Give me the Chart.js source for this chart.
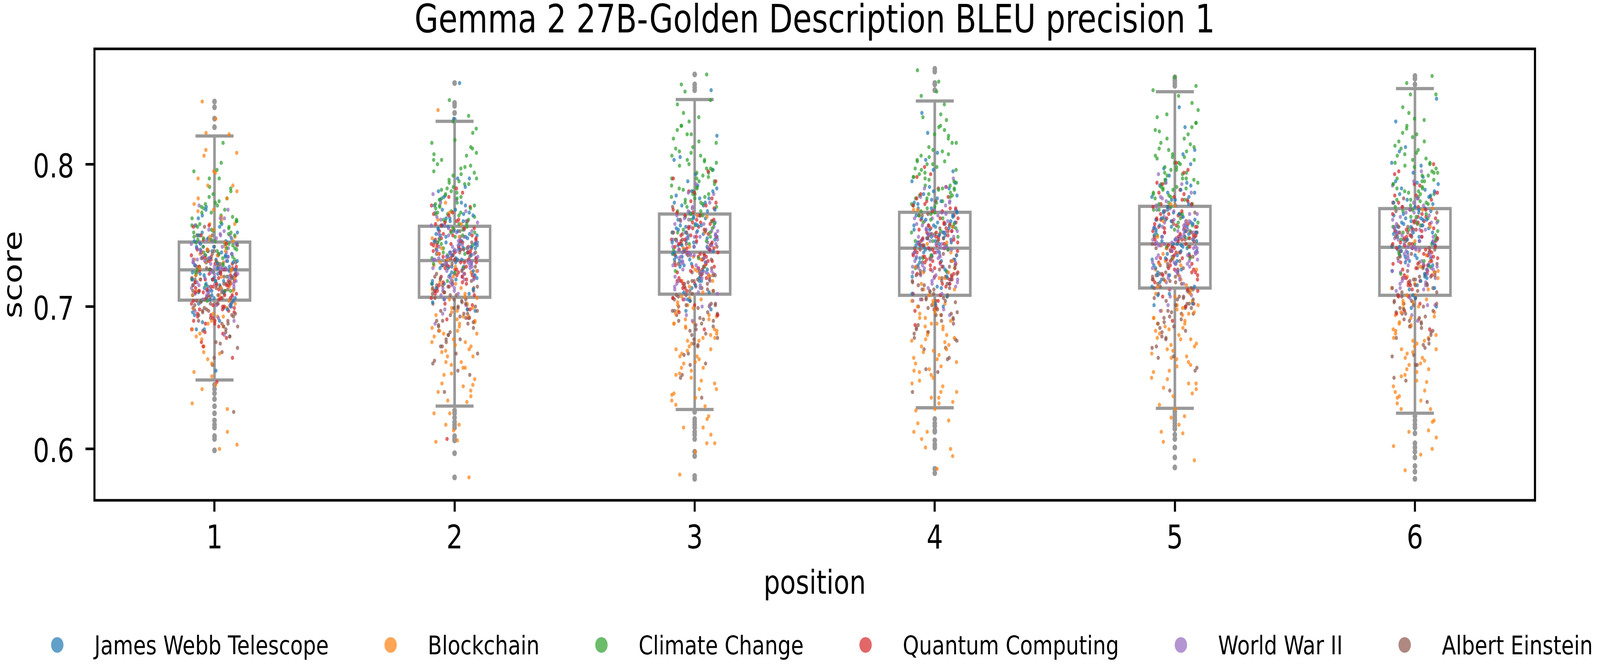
<!DOCTYPE html>
<html><head><meta charset="utf-8">
<script src="https://cdn.jsdelivr.net/npm/chart.js@4.4.1/dist/chart.umd.min.js"></script>
<style>
html,body{margin:0;padding:0;background:#fff;overflow:hidden;}
canvas{display:block;width:100vw !important;height:100vh !important;}
</style>
</head><body>
<canvas id="c" width="5167" height="1709"></canvas>
<script>
// ---------------- DATA ----------------
const positions = [1, 2, 3, 4, 5, 6];
const topics = ['James Webb Telescope', 'Blockchain', 'Climate Change', 'Quantum Computing', 'World War II', 'Albert Einstein'];
const topicColors = ['rgba(31,119,180,0.7)', 'rgba(255,127,14,0.7)', 'rgba(44,160,44,0.7)', 'rgba(214,39,40,0.7)', 'rgba(148,103,189,0.7)', 'rgba(140,86,75,0.7)'];
const yTickValues = [0.6, 0.7, 0.8];
const chartTitle = 'Gemma 2 27B-Golden Description BLEU precision 1';

// box-plot statistics per position
const boxQ1 = [0.7045, 0.7065, 0.7087, 0.7079, 0.7130, 0.7079];
const boxMedian = [0.7258, 0.7323, 0.7382, 0.7410, 0.7440, 0.7416];
const boxQ3 = [0.7453, 0.7564, 0.7650, 0.7662, 0.7704, 0.7688];
const whiskerLow = [0.6484, 0.6301, 0.6277, 0.6289, 0.6285, 0.6251];
const whiskerHigh = [0.8198, 0.8301, 0.8454, 0.8444, 0.8509, 0.8531];

// box-plot outliers per position
const outliers = [
  [.844,.840,.832,.826,.645,.642,.639,.635,.630,.625,.620,.617,.615,.609,.607,.599],
  [.857,.843,.841,.836,.831,.627,.625,.622,.619,.617,.615,.609,.607,.606,.597,.580],
  [.863,.856,.854,.852,.626,.621,.619,.617,.615,.612,.610,.607,.598,.595,.581,.579],
  [.867,.865,.857,.856,.852,.621,.618,.616,.613,.612,.606,.603,.601,.586,.583],
  [.861,.859,.857,.855,.626,.624,.622,.620,.618,.616,.614,.610,.607,.601,.594,.587],
  [.862,.860,.856,.623,.620,.617,.615,.611,.604,.601,.598,.594,.588,.584,.579]
];

// strip points per topic, one list per position
const jamesWebbScores = [
  [.724,.731,.708,.746,.719,.702,.737,.728,.713,.752,.699,.726,.741,.717,.733,.689,.722,.758,.711,.729,.735,.706,.744,.720,.715,.770,.696,.727,.739,.710,.748,.723,.684,.732,.718,.705,.742,.725,.655,.764,
   .726,.712,.748,.694,.732,.720,.740,.704,.756,.716,.724,.736,.708,.762,.700,.730,.722,.744,.710,.734,.684,.728,.718,.752,.706,.738,.714,.746,.698,.742,.723,.731,.690,.768,.719,.735,.711,.750,.702,.727],
  [.745,.728,.760,.737,.751,.719,.768,.741,.733,.756,.711,.748,.739,.775,.725,.744,.762,.703,.749,.736,.781,.730,.753,.716,.743,.765,.722,.740,.790,.734,.757,.697,.746,.727,.771,.738,.832,.750,.712,.857,
   .745,.718,.771,.728,.754,.736,.790,.705,.750,.741,.762,.713,.766,.731,.757,.722,.773,.735,.746,.698,.753,.727,.764,.740,.749,.716,.784,.724,.755,.742,.733,.777,.720,.760,.738,.751,.709,.768,.729,.744],
  [.750,.733,.767,.742,.757,.722,.776,.746,.737,.762,.713,.754,.744,.785,.729,.749,.771,.704,.755,.740,.793,.735,.759,.718,.748,.773,.726,.745,.805,.739,.764,.697,.752,.731,.781,.743,.852,.757,.710,.820,
   .751,.733,.778,.710,.758,.743,.768,.723,.788,.738,.748,.763,.728,.796,.718,.756,.745,.773,.730,.761,.698,.753,.740,.783,.725,.766,.735,.776,.715,.771,.747,.757,.705,.803,.742,.762,.732,.781,.720,.752],
  [.752,.736,.769,.745,.759,.725,.778,.748,.740,.764,.716,.756,.747,.787,.732,.751,.773,.707,.757,.743,.795,.738,.761,.721,.750,.775,.729,.747,.808,.742,.766,.700,.754,.734,.783,.746,.836,.759,.713,.822,
   .754,.724,.781,.734,.763,.744,.803,.709,.758,.749,.772,.719,.776,.738,.767,.728,.784,.743,.755,.702,.762,.733,.774,.748,.757,.721,.796,.731,.764,.750,.740,.788,.726,.769,.745,.760,.714,.779,.736,.752],
  [.754,.737,.771,.746,.761,.726,.780,.750,.741,.766,.717,.758,.748,.789,.733,.753,.775,.708,.759,.744,.797,.739,.763,.722,.752,.777,.730,.749,.810,.743,.768,.701,.756,.735,.785,.747,.840,.761,.714,.826,
   .756,.724,.785,.736,.766,.746,.807,.709,.761,.751,.775,.719,.780,.739,.770,.729,.787,.744,.757,.702,.765,.734,.777,.749,.760,.722,.800,.732,.767,.752,.742,.792,.727,.772,.747,.762,.714,.782,.737,.755],
  [.754,.736,.772,.746,.762,.725,.782,.750,.740,.767,.715,.758,.748,.791,.732,.753,.777,.706,.759,.743,.799,.738,.764,.720,.752,.779,.729,.749,.812,.742,.769,.699,.756,.734,.787,.747,.846,.761,.712,.830,
   .755,.736,.783,.713,.762,.747,.773,.726,.794,.742,.752,.768,.731,.801,.721,.760,.749,.778,.734,.765,.700,.757,.744,.788,.729,.770,.739,.781,.718,.775,.751,.761,.708,.809,.745,.766,.735,.786,.723,.756]
];
const blockchainScores = [
  [.844,.702,.761,.688,.733,.612,.795,.719,.746,.667,.822,.708,.739,.651,.776,.726,.693,.806,.603,.731,.758,.679,.714,.832,.642,.749,.721,.785,.698,.628,.768,.737,.711,.600,.810,.684,.742,.660,.790,.725,
   .729,.672,.781,.693,.747,.711,.821,.645,.738,.720,.763,.663,.772,.699,.754,.681,.785,.708,.731,.632,.745,.690,.767,.717,.736,.668,.808,.686,.749,.722,.704,.794,.677,.758,.713,.740,.654,.776,.695,.727],
  [.688,.661,.712,.675,.699,.640,.724,.683,.652,.706,.693,.625,.741,.670,.716,.646,.690,.758,.634,.679,.702,.613,.731,.665,.686,.617,.748,.657,.696,.838,.672,.606,.710,.681,.644,.766,.694,.580,.728,.668,
   .689,.661,.733,.625,.701,.677,.717,.645,.749,.669,.685,.709,.653,.761,.637,.697,.681,.725,.657,.705,.605,.693,.673,.741,.649,.713,.665,.729,.633,.721,.683,.699,.617,.773,.675,.707,.659,.737,.641,.691],
  [.683,.657,.706,.670,.694,.636,.718,.678,.648,.701,.688,.621,.735,.665,.711,.642,.685,.752,.630,.674,.697,.610,.725,.660,.681,.615,.742,.652,.691,.598,.667,.604,.705,.676,.639,.763,.689,.582,.722,.663,
   .686,.638,.729,.655,.701,.670,.764,.615,.693,.678,.714,.631,.722,.661,.707,.646,.733,.669,.688,.604,.699,.653,.718,.676,.691,.634,.752,.650,.703,.680,.665,.741,.642,.710,.672,.695,.623,.726,.657,.684],
  [.682,.655,.707,.669,.695,.633,.720,.677,.646,.702,.688,.618,.738,.663,.712,.640,.686,.756,.627,.673,.698,.607,.727,.658,.680,.612,.745,.650,.692,.595,.666,.601,.704,.675,.636,.768,.690,.586,.724,.661,
   .684,.656,.728,.620,.696,.672,.712,.640,.744,.664,.680,.704,.648,.756,.632,.692,.676,.720,.652,.700,.600,.688,.668,.736,.644,.708,.660,.724,.628,.716,.678,.694,.612,.768,.670,.702,.654,.732,.636,.686],
  [.690,.664,.714,.677,.701,.643,.726,.685,.655,.709,.695,.628,.743,.672,.719,.649,.692,.760,.637,.681,.704,.617,.732,.667,.688,.622,.749,.659,.698,.605,.674,.611,.712,.683,.646,.771,.697,.592,.729,.670,
   .692,.665,.734,.631,.703,.680,.718,.650,.749,.673,.688,.711,.658,.760,.642,.699,.684,.726,.661,.707,.612,.696,.677,.741,.654,.715,.669,.730,.639,.722,.686,.701,.623,.772,.678,.709,.663,.737,.646,.694],
  [.683,.656,.708,.670,.696,.634,.721,.678,.647,.703,.689,.619,.739,.664,.713,.641,.687,.757,.628,.674,.699,.608,.728,.659,.681,.613,.746,.651,.693,.596,.667,.602,.705,.676,.637,.769,.691,.585,.725,.662,
   .686,.636,.732,.654,.702,.670,.768,.612,.694,.678,.716,.628,.724,.660,.708,.644,.736,.668,.688,.600,.700,.652,.720,.676,.692,.632,.756,.648,.704,.680,.664,.744,.640,.712,.672,.696,.620,.728,.656,.684]
];
const climateChangeScores = [
  [.752,.771,.738,.760,.729,.784,.745,.756,.718,.766,.741,.801,.733,.749,.776,.724,.758,.743,.790,.736,.762,.711,.754,.747,.781,.731,.769,.740,.815,.726,.757,.744,.773,.704,.750,.764,.739,.795,.721,.753,
   .750,.735,.774,.715,.757,.744,.766,.726,.783,.739,.748,.761,.730,.790,.722,.755,.746,.770,.733,.759,.704,.752,.741,.779,.728,.763,.737,.772,.719,.768,.747,.756,.711,.796,.742,.760,.734,.777,.724,.751],
  [.776,.752,.793,.765,.807,.741,.784,.770,.822,.758,.779,.734,.798,.767,.745,.812,.773,.761,.790,.727,.845,.769,.786,.749,.803,.763,.777,.718,.795,.756,.830,.771,.743,.788,.760,.815,.737,.781,.766,.799,
   .776,.741,.808,.754,.787,.765,.834,.724,.782,.771,.797,.736,.803,.758,.792,.747,.811,.764,.778,.716,.786,.752,.800,.769,.780,.738,.825,.750,.789,.772,.761,.817,.744,.794,.766,.783,.730,.806,.755,.775],
  [.788,.763,.806,.777,.821,.752,.797,.783,.836,.770,.792,.744,.811,.779,.757,.827,.786,.773,.803,.737,.863,.781,.799,.760,.816,.775,.790,.728,.808,.767,.845,.784,.754,.801,.772,.830,.747,.794,.779,.856,
   .788,.767,.821,.740,.797,.779,.809,.755,.833,.773,.785,.803,.761,.842,.749,.794,.782,.815,.764,.800,.725,.791,.776,.827,.758,.806,.770,.818,.746,.812,.783,.796,.734,.851,.777,.802,.765,.824,.752,.790],
  [.787,.762,.805,.776,.820,.751,.796,.782,.835,.769,.791,.743,.810,.778,.756,.826,.785,.772,.802,.736,.866,.780,.798,.759,.815,.774,.789,.727,.807,.766,.848,.783,.753,.800,.771,.831,.746,.793,.778,.858,
   .790,.752,.824,.765,.802,.777,.851,.734,.796,.783,.812,.746,.818,.770,.806,.758,.827,.776,.791,.725,.800,.764,.815,.782,.794,.749,.842,.761,.803,.785,.773,.833,.755,.809,.779,.797,.740,.821,.767,.788],
  [.792,.768,.809,.782,.823,.757,.801,.787,.838,.775,.796,.750,.814,.784,.762,.829,.790,.778,.806,.742,.861,.786,.803,.765,.818,.780,.794,.734,.811,.772,.848,.789,.759,.805,.777,.833,.753,.798,.783,.855,
   .793,.773,.824,.748,.801,.784,.812,.762,.835,.779,.790,.807,.768,.843,.756,.798,.787,.818,.770,.804,.734,.796,.782,.829,.765,.810,.776,.821,.754,.815,.789,.800,.742,.852,.783,.805,.772,.826,.759,.794],
  [.788,.763,.806,.777,.821,.752,.797,.783,.836,.770,.792,.744,.811,.779,.757,.827,.786,.773,.803,.737,.862,.781,.799,.760,.816,.775,.790,.728,.808,.767,.849,.784,.754,.801,.772,.832,.747,.794,.779,.857,
   .786,.765,.819,.738,.795,.777,.807,.753,.831,.771,.783,.801,.759,.840,.747,.792,.780,.813,.762,.798,.723,.789,.774,.825,.756,.804,.768,.816,.744,.810,.781,.794,.732,.849,.775,.800,.763,.822,.750,.788]
];
const quantumComputingScores = [
  [.714,.698,.727,.705,.688,.720,.711,.735,.693,.716,.702,.747,.709,.681,.723,.713,.697,.730,.675,.718,.706,.740,.690,.715,.701,.725,.664,.712,.719,.684,.708,.733,.695,.722,.647,.710,.728,.700,.757,.717,
   .715,.690,.738,.699,.723,.707,.756,.678,.719,.711,.730,.686,.734,.702,.726,.694,.740,.706,.716,.672,.722,.698,.732,.710,.718,.688,.750,.696,.724,.712,.704,.744,.692,.728,.708,.720,.682,.736,.700,.714],
  [.737,.722,.751,.731,.745,.714,.758,.733,.726,.748,.708,.740,.729,.765,.719,.736,.753,.701,.742,.727,.771,.723,.744,.711,.739,.760,.717,.734,.780,.728,.747,.692,.738,.721,.755,.731,.607,.743,.716,.750,
   .737,.722,.761,.702,.744,.731,.753,.713,.770,.726,.735,.748,.717,.777,.709,.742,.733,.757,.720,.746,.691,.739,.728,.766,.715,.750,.724,.759,.706,.755,.734,.743,.698,.783,.729,.747,.721,.764,.711,.738],
  [.744,.728,.759,.738,.752,.720,.766,.740,.732,.756,.713,.747,.736,.774,.724,.743,.761,.705,.749,.733,.781,.729,.751,.716,.746,.769,.721,.741,.790,.735,.755,.696,.745,.727,.764,.738,.684,.750,.718,.758,
   .746,.716,.773,.726,.755,.736,.795,.701,.750,.741,.764,.711,.768,.730,.759,.720,.776,.735,.747,.694,.754,.725,.766,.740,.749,.713,.788,.723,.756,.742,.732,.780,.718,.761,.737,.752,.706,.771,.728,.744],
  [.747,.731,.762,.741,.755,.723,.769,.743,.735,.759,.716,.750,.739,.777,.727,.746,.764,.708,.752,.736,.784,.732,.754,.719,.749,.772,.724,.744,.793,.738,.758,.699,.748,.730,.767,.741,.687,.753,.721,.761,
   .747,.731,.774,.709,.755,.740,.764,.721,.783,.735,.745,.759,.726,.791,.716,.752,.743,.769,.728,.757,.697,.750,.738,.779,.723,.762,.733,.771,.714,.767,.744,.753,.704,.798,.739,.758,.729,.776,.719,.749],
  [.750,.734,.765,.744,.758,.726,.772,.746,.738,.762,.719,.753,.742,.780,.730,.749,.767,.711,.755,.739,.787,.735,.757,.722,.752,.775,.727,.747,.796,.741,.761,.702,.751,.733,.770,.744,.690,.756,.724,.764,
   .752,.722,.779,.732,.761,.742,.801,.707,.756,.747,.770,.717,.774,.736,.765,.726,.782,.741,.753,.700,.760,.731,.772,.746,.755,.719,.794,.729,.762,.748,.738,.786,.724,.767,.743,.758,.712,.777,.734,.750],
  [.747,.730,.763,.741,.756,.722,.770,.743,.734,.760,.715,.751,.739,.778,.726,.746,.765,.707,.753,.736,.786,.731,.755,.718,.749,.773,.723,.744,.795,.738,.759,.697,.748,.729,.768,.741,.684,.754,.720,.762,
   .749,.717,.778,.729,.759,.739,.800,.702,.754,.744,.768,.712,.773,.732,.763,.722,.780,.737,.750,.695,.758,.727,.770,.742,.753,.715,.793,.725,.760,.745,.735,.785,.720,.765,.740,.755,.707,.775,.730,.748]
];
const worldWarIIScores = [
  [.729,.741,.716,.734,.722,.750,.711,.731,.738,.719,.745,.707,.727,.736,.713,.762,.724,.733,.700,.730,.742,.718,.726,.754,.709,.735,.721,.739,.690,.728,.747,.715,.732,.725,.771,.703,.737,.720,.744,.680,
   .730,.717,.750,.701,.735,.724,.742,.710,.757,.721,.728,.739,.714,.762,.706,.733,.726,.746,.715,.737,.692,.732,.723,.753,.712,.741,.719,.748,.705,.744,.727,.734,.697,.768,.723,.738,.716,.751,.708,.731],
  [.736,.748,.724,.741,.730,.757,.719,.738,.745,.727,.752,.713,.734,.743,.721,.766,.731,.740,.708,.737,.749,.725,.733,.760,.716,.742,.728,.746,.698,.735,.754,.720,.739,.732,.775,.711,.744,.726,.750,.688,
   .738,.713,.761,.722,.746,.730,.779,.701,.742,.734,.753,.709,.757,.725,.749,.717,.763,.729,.739,.695,.745,.721,.755,.733,.741,.711,.773,.719,.747,.735,.727,.767,.715,.751,.731,.743,.705,.759,.723,.737],
  [.739,.752,.726,.744,.733,.761,.721,.741,.749,.730,.756,.715,.737,.747,.724,.770,.734,.743,.710,.740,.753,.728,.736,.764,.718,.745,.731,.750,.700,.738,.758,.723,.742,.735,.779,.713,.748,.729,.754,.690,
   .740,.725,.764,.705,.747,.734,.756,.716,.773,.729,.738,.751,.720,.780,.712,.745,.736,.760,.723,.749,.694,.742,.731,.769,.718,.753,.727,.762,.709,.758,.737,.746,.701,.786,.732,.750,.724,.767,.714,.741],
  [.743,.756,.730,.748,.737,.765,.725,.745,.753,.734,.760,.719,.741,.751,.728,.774,.738,.747,.714,.744,.757,.732,.740,.768,.722,.749,.735,.754,.704,.742,.762,.727,.746,.739,.783,.717,.752,.733,.758,.694,
   .744,.729,.768,.709,.751,.738,.760,.720,.777,.733,.742,.755,.724,.784,.716,.749,.740,.764,.727,.753,.698,.746,.735,.773,.722,.757,.731,.766,.713,.762,.741,.750,.705,.790,.736,.754,.728,.771,.718,.745],
  [.746,.759,.733,.751,.740,.768,.728,.748,.756,.737,.763,.722,.744,.754,.731,.777,.741,.750,.717,.747,.760,.735,.743,.771,.725,.752,.738,.757,.707,.745,.765,.730,.749,.742,.786,.720,.755,.736,.761,.697,
   .748,.721,.774,.731,.757,.739,.793,.708,.753,.744,.765,.716,.769,.734,.760,.725,.776,.738,.749,.701,.756,.730,.767,.743,.752,.719,.787,.727,.758,.745,.736,.780,.723,.763,.741,.754,.712,.771,.732,.747],
  [.743,.757,.729,.748,.736,.766,.724,.745,.754,.733,.761,.717,.741,.752,.727,.776,.737,.747,.712,.744,.758,.731,.740,.770,.720,.749,.734,.755,.701,.742,.763,.726,.746,.739,.785,.715,.753,.732,.759,.690,
   .744,.728,.771,.706,.752,.737,.761,.718,.780,.732,.742,.756,.723,.788,.713,.749,.740,.766,.725,.754,.694,.747,.735,.776,.720,.759,.730,.768,.711,.764,.741,.750,.701,.795,.736,.755,.726,.773,.716,.746]
];
const albertEinsteinScores = [
  [.709,.692,.724,.701,.715,.683,.731,.706,.697,.719,.688,.742,.704,.712,.674,.727,.699,.716,.659,.711,.694,.736,.705,.686,.721,.702,.750,.679,.713,.696,.726,.668,.708,.717,.690,.739,.703,.626,.714,.698,
   .711,.684,.737,.694,.720,.702,.756,.671,.716,.707,.728,.679,.732,.697,.723,.688,.739,.701,.712,.664,.719,.693,.730,.706,.715,.682,.750,.690,.721,.708,.699,.743,.686,.726,.704,.717,.675,.734,.695,.710],
  [.706,.688,.723,.697,.713,.677,.732,.702,.692,.718,.683,.745,.700,.710,.667,.727,.694,.715,.652,.708,.690,.738,.703,.680,.721,.698,.754,.672,.711,.693,.729,.660,.705,.716,.686,.741,.699,.640,.714,.695,
   .708,.690,.735,.667,.715,.700,.725,.680,.745,.695,.705,.720,.685,.753,.675,.713,.702,.730,.687,.718,.655,.710,.697,.740,.682,.723,.692,.733,.672,.728,.704,.714,.662,.760,.699,.719,.689,.738,.677,.709],
  [.709,.690,.727,.699,.716,.678,.737,.704,.694,.721,.684,.751,.702,.713,.667,.731,.696,.718,.650,.711,.692,.744,.706,.681,.724,.700,.760,.673,.714,.695,.734,.659,.708,.719,.687,.747,.701,.636,.717,.697,
   .712,.677,.744,.690,.723,.701,.770,.660,.718,.707,.733,.672,.739,.694,.728,.683,.747,.700,.714,.652,.722,.688,.736,.705,.716,.674,.761,.686,.725,.708,.697,.753,.680,.730,.702,.719,.666,.742,.691,.711],
  [.713,.694,.731,.703,.720,.682,.741,.708,.698,.725,.688,.755,.706,.717,.671,.735,.700,.722,.654,.715,.696,.748,.710,.685,.728,.704,.764,.677,.718,.699,.738,.663,.712,.723,.691,.751,.705,.640,.721,.701,
   .715,.695,.746,.670,.723,.706,.734,.684,.757,.701,.712,.729,.690,.765,.678,.720,.709,.740,.692,.726,.656,.718,.704,.751,.687,.732,.698,.743,.676,.737,.711,.722,.664,.774,.705,.727,.694,.748,.681,.716],
  [.714,.695,.732,.704,.721,.683,.742,.709,.699,.726,.689,.756,.707,.718,.672,.736,.701,.723,.655,.716,.697,.749,.711,.686,.729,.705,.765,.678,.719,.700,.739,.664,.713,.724,.692,.752,.706,.641,.722,.702,
   .717,.682,.749,.695,.728,.706,.775,.665,.723,.712,.738,.677,.744,.699,.733,.688,.752,.705,.719,.657,.727,.693,.741,.710,.721,.679,.766,.691,.730,.713,.702,.758,.685,.735,.707,.724,.671,.747,.696,.716],
  [.711,.691,.730,.700,.718,.678,.741,.706,.695,.724,.685,.756,.704,.715,.666,.735,.697,.721,.648,.713,.693,.749,.708,.682,.727,.702,.766,.673,.716,.696,.738,.659,.710,.722,.688,.752,.703,.633,.719,.699,
   .713,.692,.746,.665,.722,.704,.734,.680,.758,.698,.710,.728,.686,.767,.674,.719,.707,.740,.689,.725,.650,.716,.701,.752,.683,.731,.695,.743,.671,.737,.708,.721,.659,.776,.702,.727,.690,.749,.677,.715]
];

// ---------------- STYLE ----------------
const FONT = '"DejaVu Sans", sans-serif';
const BOX_COLOR = 'rgb(153,153,153)';
const JITTER = 0.097;
const BOX_HALF = 0.148;
const CAP_HALF = 0.079;
const PHI = 0.6180339887;

const topicScores = [jamesWebbScores, blockchainScores, climateChangeScores, quantumComputingScores, worldWarIIScores, albertEinsteinScores];

const stripDatasets = positions.map((p, pi) => {
  const data = [], colors = [];
  const n = Math.max(...topicScores.map(t => t[pi].length));
  let i = 0;
  for (let k = 0; k < n; k++) {
    topicScores.forEach((t, ti) => {
      if (k < t[pi].length) {
        i++;
        const u = (i * PHI + pi * 0.37) % 1;
        data.push({x: p + (u * 2 - 1) * JITTER, y: t[pi][k]});
        colors.push(topicColors[ti]);
      }
    });
  }
  return {type: 'scatter', label: 'position ' + p, data, pointBackgroundColor: colors,
          pointBorderWidth: 0, pointRadius: 5.3, pointHoverRadius: 5.3, order: 0};
});
const outlierDatasets = positions.map((p, pi) => ({
  type: 'scatter', label: 'outliers ' + p,
  data: outliers[pi].map(v => ({x: p, y: v})),
  pointBackgroundColor: BOX_COLOR, pointBorderWidth: 0, pointRadius: 7.5, pointHoverRadius: 7.5, order: 1
}));

const boxPlugin = {
  id: 'boxes',
  beforeDatasetsDraw(chart) {
    const {ctx, scales: {x, y}} = chart;
    ctx.save();
    ctx.strokeStyle = BOX_COLOR;
    ctx.lineWidth = 8.3;
    ctx.lineCap = 'butt';
    ctx.lineJoin = 'miter';
    const line = (x1, y1, x2, y2) => { ctx.beginPath(); ctx.moveTo(x1, y1); ctx.lineTo(x2, y2); ctx.stroke(); };
    positions.forEach((p, i) => {
      const xc = x.getPixelForValue(p);
      const xl = x.getPixelForValue(p - BOX_HALF), xr = x.getPixelForValue(p + BOX_HALF);
      const cl = x.getPixelForValue(p - CAP_HALF), cr = x.getPixelForValue(p + CAP_HALF);
      const y1 = y.getPixelForValue(boxQ1[i]), y3 = y.getPixelForValue(boxQ3[i]);
      const ym = y.getPixelForValue(boxMedian[i]);
      const ylo = y.getPixelForValue(whiskerLow[i]), yhi = y.getPixelForValue(whiskerHigh[i]);
      line(xc, y3, xc, yhi);
      line(xc, y1, xc, ylo);
      line(cl, yhi, cr, yhi);
      line(cl, ylo, cr, ylo);
      ctx.strokeRect(xl, y3, xr - xl, y1 - y3);
      line(xl, ym, xr, ym);
    });
    ctx.restore();
  }
};

const framePlugin = {
  id: 'frame',
  afterDatasetsDraw(chart) {
    const {ctx, chartArea: a} = chart;
    ctx.save();
    ctx.strokeStyle = '#000';
    ctx.lineWidth = 6.67;
    ctx.strokeRect(a.left, a.top, a.right - a.left, a.bottom - a.top);
    ctx.restore();
  }
};

const legendPlugin = {
  id: 'topicLegend',
  afterDraw(chart) {
    const {ctx, chartArea: a} = chart;
    const fs = 66.67, handle = 2 * fs, pad = 0.8 * fs, colSpace = 2 * fs;
    ctx.save();
    ctx.font = fs + 'px ' + FONT;
    const widths = topics.map(t => ctx.measureText(t).width);
    const total = widths.reduce((s, w) => s + handle + pad + w, 0) + colSpace * (topics.length - 1);
    let x0 = (a.left + a.right) / 2 - total / 2;
    const cy = 1650, baseY = 1674;
    topics.forEach((t, i) => {
      ctx.fillStyle = topicColors[i];
      ctx.beginPath();
      ctx.arc(x0 + handle / 2, cy, 20, 0, Math.PI * 2);
      ctx.fill();
      ctx.fillStyle = '#000';
      ctx.textAlign = 'left';
      ctx.textBaseline = 'alphabetic';
      ctx.fillText(t, x0 + handle + pad, baseY);
      x0 += handle + pad + widths[i] + colSpace;
    });
    ctx.restore();
  }
};

const tickFont = {family: FONT, size: 83.33, lineHeight: 1};
const gridOpts = {display: true, drawOnChartArea: false, drawTicks: true, tickLength: 29,
                  tickWidth: 6.67, tickColor: '#000', color: '#000', lineWidth: 6.67};

new Chart(document.getElementById('c'), {
  type: 'scatter',
  data: {datasets: [...stripDatasets, ...outlierDatasets]},
  options: {
    responsive: false,
    animation: false,
    devicePixelRatio: 1,
    layout: {padding: {left: 0, right: 210, top: 0, bottom: 169}},
    plugins: {
      legend: {display: false},
      tooltip: {enabled: false},
      title: {display: true, text: chartTitle, fullSize: false, color: '#000',
              font: {family: FONT, size: 100, weight: 'normal', lineHeight: 1},
              padding: {top: 7, bottom: 18}}
    },
    scales: {
      x: {
        type: 'linear', min: 0.5, max: 6.5,
        afterBuildTicks: s => { s.ticks = positions.map(v => ({value: v})); },
        afterFit: s => { s.height = 260; },
        ticks: {font: tickFont, color: '#000', padding: 30.7, autoSkip: false, maxRotation: 0,
                callback: v => String(v)},
        grid: gridOpts,
        border: {display: false},
        title: {display: true, text: 'position', color: '#000', font: tickFont, padding: {top: 0, bottom: 1}}
      },
      y: {
        type: 'linear', min: 0.5639, max: 0.881,
        afterBuildTicks: s => { s.ticks = yTickValues.map(v => ({value: v})); },
        afterFit: s => { s.width = 305; },
        ticks: {font: tickFont, color: '#000', padding: 37, labelOffset: 12,
                callback: v => Number(v).toFixed(1)},
        grid: gridOpts,
        border: {display: false},
        title: {display: true, text: 'score', color: '#000', font: tickFont, padding: {top: 6.7, bottom: 0}}
      }
    }
  },
  plugins: [boxPlugin, framePlugin, legendPlugin]
});
</script>
</body></html>
